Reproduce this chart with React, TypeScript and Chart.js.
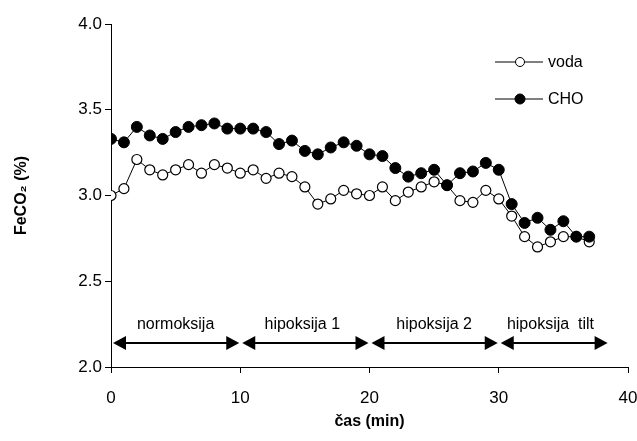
import React, { useEffect, useRef } from "react";
import { Chart, registerables } from "chart.js";

Chart.register(...registerables);

const timeMin = [0, 1, 2, 3, 4, 5, 6, 7, 8, 9, 10, 11, 12, 13, 14, 15, 16, 17, 18, 19, 20, 21, 22, 23, 24, 25, 26, 27, 28, 29, 30, 31, 32, 33, 34, 35, 36, 37];
const vodaValues = [3.0, 3.04, 3.21, 3.15, 3.12, 3.15, 3.18, 3.13, 3.18, 3.16, 3.13, 3.15, 3.1, 3.13, 3.11, 3.05, 2.95, 2.98, 3.03, 3.01, 3.0, 3.05, 2.97, 3.02, 3.05, 3.08, 3.06, 2.97, 2.96, 3.03, 2.98, 2.88, 2.76, 2.7, 2.73, 2.76, 2.76, 2.73];
const choValues = [3.33, 3.31, 3.4, 3.35, 3.33, 3.37, 3.4, 3.41, 3.42, 3.39, 3.39, 3.39, 3.37, 3.3, 3.32, 3.26, 3.24, 3.28, 3.31, 3.29, 3.24, 3.23, 3.16, 3.11, 3.13, 3.15, 3.06, 3.13, 3.14, 3.19, 3.15, 2.95, 2.84, 2.87, 2.8, 2.85, 2.76, 2.76];

const seriesNames = ["voda", "CHO"];
const phaseLabels = ["normoksija", "hipoksija 1", "hipoksija 2", "hipoksija  tilt"];
const phaseStarts = [0, 10, 20, 30];
const phaseEnds = [10, 20, 30, 38.5];
const phaseLabelX = [5, 14.8, 25, 34];
const phaseArrowY = 2.14;
const phaseLabelY = 2.245;

const FONT = "'Liberation Sans', Arial, sans-serif";

function drawArrowHead(ctx: CanvasRenderingContext2D, tipX: number, y: number, dir: number) {
  const len = 13;
  const half = 7;
  ctx.beginPath();
  ctx.moveTo(tipX, y);
  ctx.lineTo(tipX + dir * len, y - half);
  ctx.lineTo(tipX + dir * len, y + half);
  ctx.closePath();
  ctx.fill();
}

const annotationPlugin = {
  id: "phaseAnnotations",
  afterDatasetsDraw(chart: any) {
    const ctx: CanvasRenderingContext2D = chart.ctx;
    const xs = chart.scales.x;
    const ys = chart.scales.y;
    ctx.save();
    ctx.fillStyle = "#000";
    ctx.strokeStyle = "#000";
    ctx.lineWidth = 2;
    const ay = ys.getPixelForValue(phaseArrowY);
    for (let i = 0; i < phaseStarts.length; i++) {
      const x1 = xs.getPixelForValue(phaseStarts[i]) + 2;
      const x2 = xs.getPixelForValue(phaseEnds[i]) - 1;
      ctx.beginPath();
      ctx.moveTo(x1 + 4, ay);
      ctx.lineTo(x2 - 4, ay);
      ctx.stroke();
      drawArrowHead(ctx, x1, ay, 1);
      drawArrowHead(ctx, x2, ay, -1);
    }
    ctx.font = `16px ${FONT}`;
    ctx.textAlign = "center";
    ctx.textBaseline = "middle";
    const ly = ys.getPixelForValue(phaseLabelY);
    for (let i = 0; i < phaseLabels.length; i++) {
      ctx.fillText(phaseLabels[i], xs.getPixelForValue(phaseLabelX[i]), ly);
    }

    // legend
    const legendRows = [62, 99];
    const lx1 = 495;
    const lx2 = 543;
    const mx = 520;
    ctx.lineWidth = 1;
    ctx.textAlign = "left";
    for (let i = 0; i < seriesNames.length; i++) {
      const yy = legendRows[i];
      ctx.beginPath();
      ctx.moveTo(lx1, yy);
      ctx.lineTo(lx2, yy);
      ctx.stroke();
      ctx.beginPath();
      ctx.arc(mx, yy, i === 0 ? 4.5 : 5, 0, Math.PI * 2);
      ctx.fillStyle = i === 0 ? "#fff" : "#000";
      ctx.fill();
      ctx.stroke();
      ctx.fillStyle = "#000";
      ctx.fillText(seriesNames[i], 548, yy + 1);
    }
    ctx.restore();
  },
};

export default function App() {
  const ref = useRef<HTMLCanvasElement | null>(null);

  useEffect(() => {
    if (!ref.current) return;
    const chart = new Chart(ref.current, {
      type: "line",
      data: {
        labels: timeMin,
        datasets: [
          {
            label: seriesNames[0],
            data: timeMin.map((t, i) => ({ x: t, y: vodaValues[i] })),
            borderColor: "#000",
            borderWidth: 1,
            backgroundColor: "#fff",
            pointBackgroundColor: "#fff",
            pointBorderColor: "#000",
            pointBorderWidth: 1.2,
            pointRadius: 5,
            tension: 0,
            order: 1,
          },
          {
            label: seriesNames[1],
            data: timeMin.map((t, i) => ({ x: t, y: choValues[i] })),
            borderColor: "#000",
            borderWidth: 1,
            backgroundColor: "#000",
            pointBackgroundColor: "#000",
            pointBorderColor: "#000",
            pointBorderWidth: 1,
            pointRadius: 5.5,
            tension: 0,
            order: 0,
          },
        ],
      },
      options: {
        animation: false,
        responsive: false,
        devicePixelRatio: 1,
        layout: { padding: { left: 0, right: 9, top: 24, bottom: 0 } },
        plugins: {
          legend: { display: false },
          tooltip: { enabled: false },
        },
        scales: {
          x: {
            type: "linear",
            min: 0,
            max: 40,
            afterFit: (s: any) => {
              s.height = 74;
              s.paddingLeft = 0;
              s.paddingRight = 0;
            },
            ticks: {
              stepSize: 10,
              color: "#000",
              padding: 15,
              font: { family: FONT, size: 17 },
              callback: (v: any) => String(v),
            },
            grid: { display: true, drawOnChartArea: false, drawTicks: true, tickLength: 6, color: "#000", lineWidth: 1 },
            border: { display: true, color: "#000", width: 1 },
            title: {
              display: true,
              text: "čas (min)",
              color: "#000",
              font: { family: FONT, size: 16, weight: "bold" },
              padding: { top: 0, bottom: 10 },
            },
          },
          y: {
            type: "linear",
            min: 2,
            max: 4,
            afterFit: (s: any) => {
              s.width = 111;
            },
            ticks: {
              stepSize: 0.5,
              color: "#000",
              padding: 3,
              font: { family: FONT, size: 17 },
              callback: (v: any) => Number(v).toFixed(1),
            },
            grid: { display: true, drawOnChartArea: false, drawTicks: true, tickLength: 6, color: "#000", lineWidth: 1 },
            border: { display: true, color: "#000", width: 1 },
            title: {
              display: true,
              text: "FeCO₂ (%)",
              color: "#000",
              font: { family: FONT, size: 16, weight: "bold" },
              padding: { top: 12, bottom: 0 },
            },
          },
        },
      },
      plugins: [annotationPlugin],
    });
    return () => chart.destroy();
  }, []);

  return (
    <div style={{ position: "absolute", left: 0, top: 0, width: 637, height: 441, background: "#fff" }}>
      <canvas ref={ref} width={637} height={441} style={{ display: "block" }} />
    </div>
  );
}
